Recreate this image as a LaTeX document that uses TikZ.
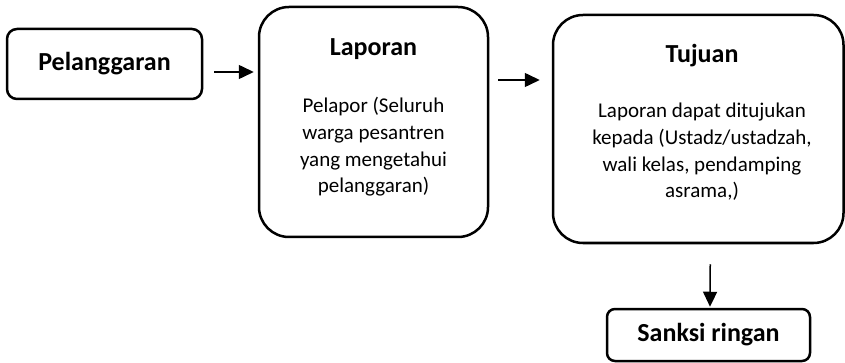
\documentclass[tikz,border=0pt]{standalone}
\usepackage{fontspec}
\setmainfont{Carlito}
\usetikzlibrary{arrows.meta,calc}

\begin{document}
\begin{tikzpicture}[x=1pt, y=-1pt,
    box/.style={draw, line width=2.5pt, rounded corners=#1, inner sep=0pt},
    box/.default=10pt,
    title/.style={font=\fontsize{26}{31}\selectfont\bfseries},
    body/.style={font=\fontsize{21}{26.7}\selectfont, align=center, anchor=base, inner sep=0pt},
    arr/.style={-{Triangle[length=15pt,width=14pt]}, line width=1.5pt}]
    \useasboundingbox (0,0) rectangle (845,363);
    \node[box, title, minimum width=195pt, minimum height=70pt] (pel) at (104.5,64) {Pelanggaran};
    \node[box=30pt, minimum width=229pt, minimum height=230pt] (lap) at (373.5,122) {};
    \node[box=30pt, minimum width=290.5pt, minimum height=228pt] (tuj) at (698.25,129) {};
    \node[box=8pt, title, minimum width=203pt, minimum height=52pt] (san) at (708.5,335) {Sanksi ringan};
    \node[title, anchor=base, inner sep=0pt] (lapTitle) at (373.5,56) {Laporan};
    \node[body] (lapText) at (373.5,193) {Pelapor (Seluruh\\warga pesantren\\yang mengetahui\\pelanggaran)};
    \node[title, anchor=base, inner sep=0pt] (tujTitle) at (702,63) {Tujuan};
    \node[body] (tujText) at (702,198) {Laporan dapat ditujukan\\kepada (Ustadz/ustadzah,\\wali kelas, pendamping\\asrama,)};
    \draw[arr] ($(pel.east)+(11,8)$) -- ($(lap.west)+(-4,-50)$);
    \draw[arr] ($(lap.east)+(9,-42)$) -- ($(tuj.west)+(-12,-49)$);
    \draw[arr] ($(tuj.south)+(12,20)$) -- ($(san.north)+(1.5,-1)$);
\end{tikzpicture}
\end{document}
